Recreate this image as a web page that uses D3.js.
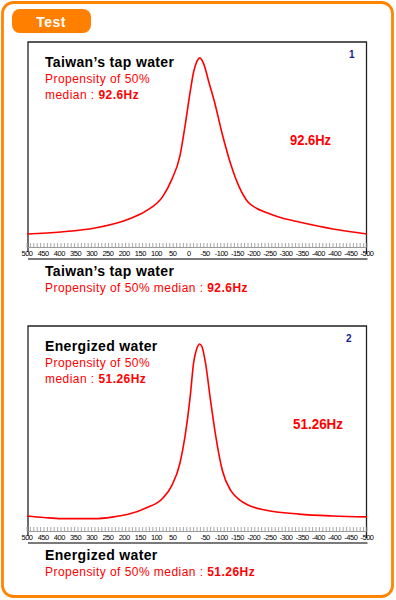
<!DOCTYPE html>
<html>
<head>
<meta charset="utf-8">
<script src="https://cdn.jsdelivr.net/npm/d3@7"></script>
<style>
body { margin: 0; background: #fff; }
svg { display: block; font-family: "Liberation Sans", Arial, sans-serif; }
</style>
</head>
<body>
<div id="chart"></div>
<script>
// axis labels as printed on the chart (the -400 really is there twice)
const tickLabels = ['500','450','400','350','300','250','200','150','100','50','0',
	'-50','-100','-150','-200','-250','-300','-350','-400','-400','-450','-500']

const titles = ['Taiwan\u2019s tap water', 'Energized water']
const medians = ['92.6Hz', '51.26Hz']
const panelNumbers = ['1', '2']

// panel 1 curve: frequency offset (Hz) and relative amplitude
const hz1 = [500, 400, 300, 200, 150, 100, 75, 50, 35, 20, 10, 0, -8, -20, -35, -50, -75, -100, -125, -150, -175, -200, -250, -300, -400, -500]
const amp1 = [5.3, 6.4, 8.5, 13.3, 17.6, 25.5, 34, 47, 63, 81, 91.5, 97.3, 99, 95.7, 86, 76.6, 58, 42, 30, 22.3, 19, 17, 13.8, 11.7, 8, 5.3]

// panel 2 curve
const hz2 = [500, 450, 400, 300, 250, 200, 150, 100, 75, 50, 35, 20, 10, 0, -8, -15, -25, -40, -55, -75, -100, -125, -150, -200, -300, -400, -500]
const amp2 = [6.4, 5.6, 5.0, 5.0, 5.8, 7.4, 10.6, 16, 22.3, 34.6, 49, 70, 87.8, 95.7, 97.9, 96.3, 87.8, 67.6, 49, 30.3, 19.7, 14.9, 12.2, 9.6, 7.4, 6.4, 5.9]

const svg = d3.select('#chart')
	.append('svg')
	.attr('width', 396)
	.attr('height', 600)

// outer orange frame
svg.append('rect')
	.attr('x', 2.5)
	.attr('y', 2.5)
	.attr('width', 390)
	.attr('height', 594)
	.attr('rx', 11)
	.attr('fill', 'none')
	.attr('stroke', '#ff8400')
	.attr('stroke-width', 2.8)

// "Test" tab
svg.append('rect')
	.attr('x', 12)
	.attr('y', 9)
	.attr('width', 79)
	.attr('height', 24)
	.attr('rx', 8)
	.attr('fill', '#ff8000')

svg.append('text')
	.attr('x', 51)
	.attr('y', 27)
	.attr('text-anchor', 'middle')
	.attr('fill', '#fff')
	.attr('font-weight', 'bold')
	.attr('font-size', 14)
	.attr('letter-spacing', 0.5)
	.text('Test')

function drawPanel(i, top, hz, amp){

	let left = 28
	let right = 366.5

	let xScale = d3.scaleLinear()
		.domain([500, -500])
		.range([27, 367])

	let labelScale = d3.scalePoint()
		.domain(d3.range(tickLabels.length))
		.range([27, 367])

	let yScale = d3.scaleLinear()
		.domain([0, 100])
		.range([top + 202, top + 14])

	let g = svg.append('g')

	// frame
	g.append('path')
		.attr('d', `M${left},${top + 210}V${top}H${right}V${top + 212}`)
		.attr('fill', 'none')
		.attr('stroke', '#222')
		.attr('stroke-width', 1.3)

	// minor ticks every 10 Hz
	g.selectAll('.minor')
		.data(d3.range(500, -501, -10))
		.enter()
		.append('line')
		.attr('x1', d => xScale(d))
		.attr('x2', d => xScale(d))
		.attr('y1', top + 201)
		.attr('y2', top + 205.5)
		.attr('stroke', '#a8a8a8')
		.attr('stroke-width', 1)

	g.append('line')
		.attr('x1', left)
		.attr('x2', right)
		.attr('y1', top + 205.5)
		.attr('y2', top + 205.5)
		.attr('stroke', '#9a9a9a')
		.attr('stroke-width', 1)

	g.selectAll('.lbl')
		.data(tickLabels)
		.enter()
		.append('text')
		.attr('x', (d, k) => labelScale(k))
		.attr('y', top + 214)
		.attr('text-anchor', 'middle')
		.attr('font-size', 7.5)
		.attr('letter-spacing', -0.5)
		.attr('fill', '#000')
		.text(d => d)

	// gray base bar
	g.append('line')
		.attr('x1', left)
		.attr('x2', right + 1)
		.attr('y1', top + 217)
		.attr('y2', top + 217)
		.attr('stroke', '#7a7a7a')
		.attr('stroke-width', 2)

	// curve
	let points = hz.map((d, k) => ({hz: d, amp: amp[k]}))

	let line = d3.line()
		.x(d => xScale(d.hz))
		.y(d => yScale(d.amp))
		.curve(d3.curveMonotoneX)

	g.append('path')
		.datum(points)
		.attr('d', line)
		.attr('fill', 'none')
		.attr('stroke', '#ff0000')
		.attr('stroke-width', 1.6)

	// panel number
	g.append('text')
		.attr('x', i == 0 ? 349 : 346)
		.attr('y', top + 16)
		.attr('font-size', 10)
		.attr('font-weight', 'bold')
		.attr('fill', '#1a1a8c')
		.text(panelNumbers[i])

	// text inside plot
	g.append('text')
		.attr('x', 45)
		.attr('y', top + 25)
		.attr('font-size', 14)
		.attr('font-weight', 'bold')
		.attr('letter-spacing', 0.35)
		.attr('fill', '#000')
		.text(titles[i])

	g.append('text')
		.attr('x', 45)
		.attr('y', top + 41)
		.attr('font-size', 12)
		.attr('letter-spacing', 0.45)
		.attr('fill', '#ff0000')
		.text('Propensity of 50%')

	let med = g.append('text')
		.attr('x', 45)
		.attr('y', top + 57)
		.attr('font-size', 12)
		.attr('letter-spacing', 0.45)
		.attr('fill', '#ff0000')
	med.append('tspan').text('median : ')
	med.append('tspan').attr('font-weight', 'bold').text(medians[i])

	// big value label
	g.append('text')
		.attr('x', i == 0 ? 290 : 293)
		.attr('y', top + 103)
		.attr('font-size', 15.5)
		.attr('font-weight', 'bold')
		.attr('fill', '#ff0000')
		.attr('textLength', i == 0 ? 41 : 50)
		.attr('lengthAdjust', 'spacingAndGlyphs')
		.text(medians[i])

	// caption under the plot
	g.append('text')
		.attr('x', 45)
		.attr('y', top + 234)
		.attr('font-size', 14)
		.attr('font-weight', 'bold')
		.attr('letter-spacing', 0.35)
		.attr('fill', '#000')
		.text(titles[i])

	let cap = g.append('text')
		.attr('x', 45)
		.attr('y', top + 250)
		.attr('font-size', 12)
		.attr('letter-spacing', 0.45)
		.attr('fill', '#ff0000')
	cap.append('tspan').text('Propensity of 50% median : ')
	cap.append('tspan').attr('font-weight', 'bold').text(medians[i])
}

drawPanel(0, 42, hz1, amp1)
drawPanel(1, 326, hz2, amp2)
</script>
</body>
</html>
